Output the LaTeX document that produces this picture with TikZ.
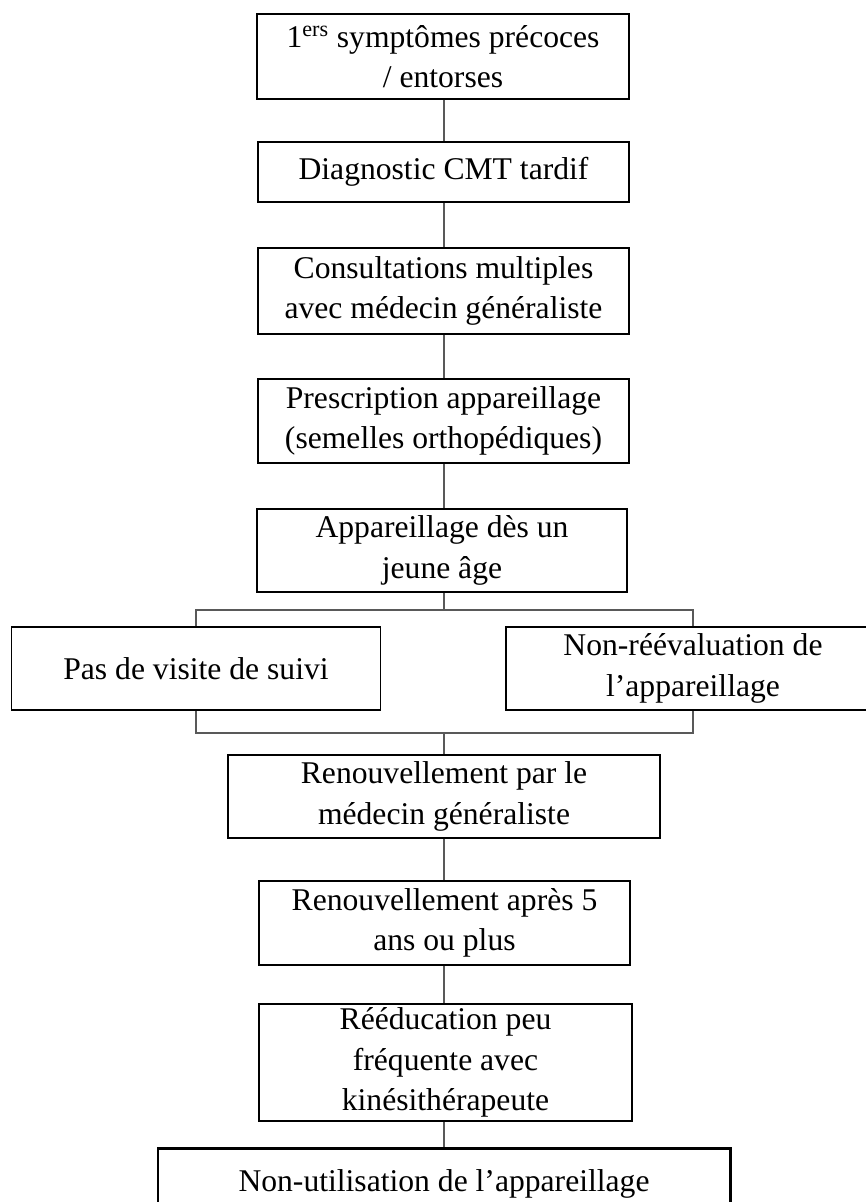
\documentclass[tikz,border=0pt]{standalone}
\usepackage{fontspec}
\setmainfont{Liberation Serif}
\usepackage{tikz}
\def\px{0.02cm}
\tikzset{
  etape/.style={draw, line width=1.1pt, align=center, inner sep=2pt,
    font=\fontsize{18}{23}\selectfont, minimum height=#1*\px},
  etape/.default=84,
  lien/.style={draw=black!65, line width=0.6pt}
}

\begin{document}
\begin{tikzpicture}[x=\px, y=-\px]
        \useasboundingbox (0,0) rectangle (865,1202);
        % chaine principale
        \node[etape=85, minimum width=372*\px] (b1) at (443,56.5) {1\textsuperscript{ers} symptômes précoces\\ / entorses};
        \node[etape=60, minimum width=371*\px] (b2) at (443.5,172) {Diagnostic CMT tardif};
        \node[etape=86, minimum width=371*\px] (b3) at (443.5,291) {Consultations multiples\\ avec médecin généraliste};
        \node[etape, minimum width=371*\px] (b4) at (443.5,421) {Prescription appareillage\\ (semelles orthopédiques)};
        \node[etape=83, minimum width=370*\px] (b5) at (442,550.5) {Appareillage dès un\\ jeune âge};
        \node[etape=83, minimum width=369*\px] (gauche) at (196,668.5) {Pas de visite de suivi};
        \node[etape=83, minimum width=374*\px] (droite) at (693,668.5) {Non-réévaluation de\\ l’appareillage};
        \node[etape=83, minimum width=432*\px] (b6) at (444,796.5) {Renouvellement par le\\ médecin généraliste};
        \node[etape, minimum width=371*\px] (b7) at (444.5,923) {Renouvellement après 5\\ ans ou plus};
        \node[etape=115, minimum width=373*\px] (b8) at (445.5,1062.5) {Rééducation peu\\ fréquente avec\\ kinésithérapeute};
        \node[etape=72, minimum width=572*\px, line width=1.7pt] (b9) at (444,1184) {Non-utilisation de l’appareillage};
        % liens
        \foreach \x in {1,2,3,4,6,7,8}{
          \pgfmathtruncatemacro{\next}{\x + 1}
          \draw[lien] (b\x.south -| 444,0) -- (b\next.north -| 444,0);
        }
        \coordinate (haut) at (444,610);
        \coordinate (bas) at (444,733);
        \draw[lien] (b5.south -| haut) -- (haut);
        \draw[lien] (gauche.north) |- (haut) -| (droite.north);
        \draw[lien] (gauche.south) |- (bas) -| (droite.south);
        \draw[lien] (bas) -- (b6.north -| bas);
      \end{tikzpicture}
\end{document}
